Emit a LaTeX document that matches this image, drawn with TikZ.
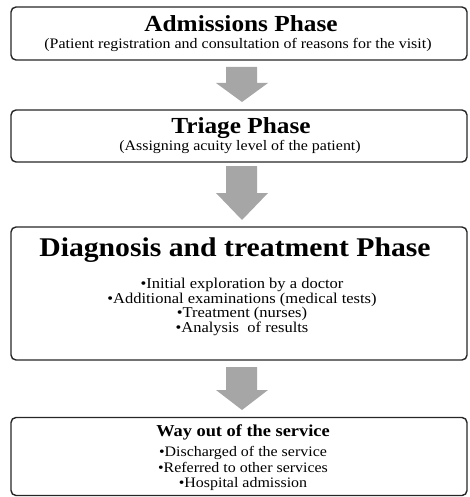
\documentclass[tikz,border=0pt]{standalone}
\usepackage{fontspec}
\setmainfont[FakeStretch=1.1]{Liberation Serif}
\begin{document}
\begin{tikzpicture}[x=1pt,y=-1pt,
  phasebox/.style={draw=black!85,line width=1.4pt,rounded corners=5pt,inner sep=0pt},
  bigtitle/.style={font=\fontsize{23}{28}\selectfont\bfseries,inner sep=0pt},
  subtext/.style={font=\fontsize{14.5}{15}\selectfont,inner sep=0pt,align=center},
  bullettext/.style={font=\fontsize{15}{14.7}\selectfont,inner sep=0pt,align=center},
  exittext/.style={font=\fontsize{14.5}{15.5}\selectfont,inner sep=0pt,align=center},
  smalltitle/.style={font=\fontsize{16.7}{20}\selectfont\bfseries,inner sep=0pt},
  flowarrow/.style={fill=black!35,draw=none}]
\useasboundingbox (0,0) rectangle (469,497);
% boxes
\node[phasebox,minimum width=456pt,minimum height=53pt] (b1) at (239,33.5) {};
\node[phasebox,minimum width=456pt,minimum height=52pt] (b2) at (239,136) {};
\node[phasebox,minimum width=456pt,minimum height=133pt] (b3) at (239,293.5) {};
\node[phasebox,minimum width=456pt,minimum height=78pt] (b4) at (239,456.5) {};
% texts
\node[bigtitle] (t1) at (241,24) {Admissions Phase};
\node[subtext] (s1) at (238,45) {(Patient registration and consultation of reasons for the visit)};
\node[bigtitle] (t2) at (241,128) {Triage Phase};
\node[subtext] (s2) at (240,147) {(Assigning acuity level of the patient)};
\node[bigtitle,font=\fontsize{27}{30}\selectfont\bfseries] (t3) at (235,250) {Diagnosis and treatment Phase};
\node[bullettext] (s3) at (242,307) {\textbullet Initial exploration by a doctor\\
\textbullet Additional examinations (medical tests)\\
\textbullet Treatment (nurses)\\
\textbullet Analysis\ \ of results};
\node[smalltitle] (t4) at (243,432) {Way out of the service};
\node[exittext] (s4) at (243,468.5) {\textbullet Discharged of the service\\
\textbullet Referred to other services\\
\textbullet Hospital admission};
% block arrows
\foreach \ya/\yb/\yc/\nm in {67/83/102/a1,166/193/220/a2,367/390/410/a3}{
  \path[flowarrow] (226,\ya) -- (257,\ya) -- (257,\yb) -- (268,\yb) -- (242,\yc) -- (216,\yb) -- (226,\yb) -- cycle;
}
\end{tikzpicture}
\end{document}
